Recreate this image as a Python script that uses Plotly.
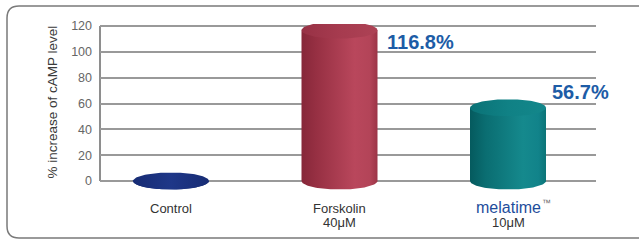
import numpy as np
import plotly.graph_objects as go

# ---- data ----
categories = ["Control", "Forskolin", "melatime"]
sublabels = ["", "40μM", "10μM"]
values = [0.0, 116.8, 56.7]
value_labels = ["", "116.8%", "56.7%"]
y_ticks = [0, 20, 40, 60, 80, 100, 120]

# ---- styling ----
W, H = 639, 240
PL, PR = 100, 596          # plot area x pixels
PT, PB = 24, 200           # plot area y pixels
Y0PX, Y120PX = 181, 26     # pixel positions of y=0 and y=120
ppu = (Y0PX - Y120PX) / 120.0
ymin = -(PB - Y0PX) / ppu
ymax = (Y0PX - PT) / ppu
spacing = 168.5
x_left = -(171 - PL) / spacing
x_right = (PR - 171) / spacing

half_w = 38 / spacing
half_h = 8.5 / ppu

body_scales = [
    [[0, "#14286c"], [0.5, "#1d3484"], [1, "#15296e"]],
    [[0, "#862739"], [0.2, "#973043"], [0.7, "#b9475c"], [0.9, "#b34458"], [1, "#9c3447"]],
    [[0, "#055a5e"], [0.2, "#0a6d71"], [0.7, "#15898d"], [0.9, "#11838a"], [1, "#0b7477"]],
]
lid_scales = [
    [[0, "#172c74"], [0.5, "#1f3788"], [1, "#172c74"]],
    [[0, "#973145"], [0.5, "#a63b4f"], [1, "#ad4255"]],
    [[0, "#0a7276"], [0.5, "#108185"], [1, "#13878b"]],
]
label_shift = [(0, 0), (45, -12), (42, 16)]
label_color = "#1d5ca6"
FONT = "Liberation Sans, Arial"

fig = go.Figure()

for i, (cat, v) in enumerate(zip(categories, values)):
    xc = i
    th = np.linspace(np.pi, 2 * np.pi, 60)
    bx = list(xc + half_w * np.cos(th)) + [xc + half_w, xc - half_w, xc - half_w]
    by = list(half_h * np.sin(th)) + [v, v, 0]
    fig.add_trace(go.Scatter(
        x=bx, y=by, mode="lines", fill="toself", line=dict(width=0),
        fillgradient=dict(type="horizontal", colorscale=body_scales[i]),
        hoverinfo="skip", showlegend=False))
    t = np.linspace(0, 2 * np.pi, 120)
    lx = xc + half_w * np.cos(t)
    ly = v + half_h * np.sin(t)
    fig.add_trace(go.Scatter(
        x=lx, y=ly, mode="lines", fill="toself", line=dict(width=0),
        fillgradient=dict(type="horizontal", colorscale=lid_scales[i]),
        hoverinfo="skip", showlegend=False))

# value labels
for i, (v, lab) in enumerate(zip(values, value_labels)):
    if not lab:
        continue
    dx, dy = label_shift[i]
    fig.add_annotation(x=i, y=v, xref="x", yref="y", text=f"<b>{lab}</b>",
                       showarrow=False, xanchor="left", yanchor="middle",
                       xshift=dx, yshift=dy,
                       font=dict(family=FONT, size=20, color=label_color))

def py2paper(py):
    return (PB - py) / (PB - PT)

def px2paper(px):
    return (px - PL) / (PR - PL)

# category labels
for i, cat in enumerate(categories):
    if cat == "melatime":
        fig.add_annotation(x=i, y=py2paper(207), xref="x", yref="paper", text="melatime",
                           showarrow=False, xanchor="center", yanchor="middle",
                           font=dict(family=FONT, size=16, color="#1e4d9b"))
        fig.add_annotation(x=i, y=py2paper(203), xref="x", yref="paper", text="™",
                           showarrow=False, xanchor="left", yanchor="middle", xshift=32,
                           font=dict(family=FONT, size=9, color="#6a6a6a"))
    else:
        fig.add_annotation(x=i, y=py2paper(208), xref="x", yref="paper", text=cat,
                           showarrow=False, xanchor="center", yanchor="middle",
                           font=dict(family=FONT, size=13, color="#333333"))
    if sublabels[i]:
        fig.add_annotation(x=i, y=py2paper(222), xref="x", yref="paper", text=sublabels[i],
                           showarrow=False, xanchor="center", yanchor="middle",
                           font=dict(family=FONT, size=13, color="#333333"))

# y-axis title
fig.add_annotation(x=px2paper(52), y=py2paper(102.5), xref="paper", yref="paper",
                   text="% increase of cAMP level", textangle=-90, showarrow=False,
                   xanchor="center", yanchor="middle",
                   font=dict(family=FONT, size=13.5, color="#3a3a3a"))

# left axis line
fig.add_shape(type="line", xref="x domain", yref="y", x0=0, x1=0, y0=0, y1=120,
              line=dict(color="#8e8e8e", width=2), layer="below")

# rounded frame
x0p, x1p = px2paper(7), px2paper(660)
y0p, y1p = py2paper(6), py2paper(238)
rx = 12 / (PR - PL)
ry = 12 / (PB - PT)
path = (f"M {x0p + rx},{y0p} L {x1p},{y0p} L {x1p},{y1p} L {x0p + rx},{y1p} "
        f"Q {x0p},{y1p} {x0p},{y1p + ry} L {x0p},{y0p - ry} Q {x0p},{y0p} {x0p + rx},{y0p} Z")
fig.add_shape(type="path", xref="paper", yref="paper", path=path,
              line=dict(color="#7a7a7a", width=1.5), layer="below")

fig.update_layout(
    width=W, height=H,
    margin=dict(l=PL, r=W - PR, t=PT, b=H - PB, pad=0),
    paper_bgcolor="white", plot_bgcolor="white",
    showlegend=False,
    xaxis=dict(range=[x_left, x_right], showgrid=False, zeroline=False,
               showticklabels=False, showline=False, fixedrange=True),
    yaxis=dict(range=[ymin, ymax], tickvals=y_ticks, ticktext=[str(t) for t in y_ticks],
               showgrid=True, gridcolor="#999999", gridwidth=2.2, zeroline=False,
               showline=False, ticks="", ticklabelstandoff=7,
               tickfont=dict(family=FONT, size=12.5, color="#666666"),
               fixedrange=True),
)

fig.write_html("out.html", config={"displayModeBar": False},
               post_script="document.body.style.margin='0';")
